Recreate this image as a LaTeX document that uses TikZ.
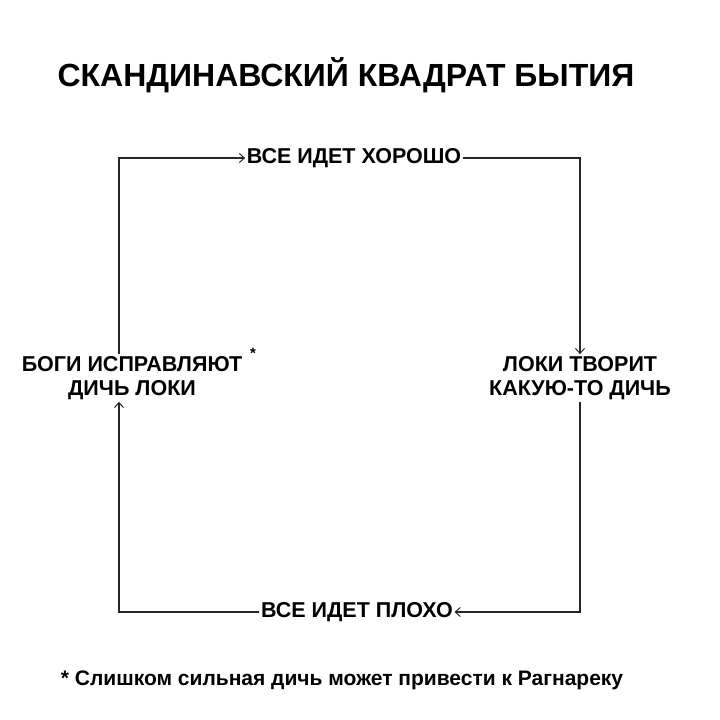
\documentclass[tikz,border=0pt]{standalone}
\usepackage{fontspec}
\setmainfont{Liberation Sans}
\usetikzlibrary{arrows.meta}
\begin{document}
\begin{tikzpicture}[x=1pt,y=-1pt,
  lbl/.style={font=\bfseries\fontsize{21.5}{24}\selectfont, align=center, inner xsep=1.5pt, inner ysep=2pt, text=black},
  conn/.style={line width=1.1pt, draw=black!85},
  arr/.style={conn, -{Straight Barb[length=5pt,width=9pt,line width=1pt]}}]
\useasboundingbox[fill=white] (0,0) rectangle (720,720);
\node[font=\bfseries\fontsize{32}{36}\selectfont, text=black] (title) at (346,75) {СКАНДИНАВСКИЙ КВАДРАТ БЫТИЯ};
\coordinate (tl) at (119,158);
\coordinate (tr) at (580,158);
\coordinate (br) at (580,612);
\coordinate (bl) at (119,612);
\node[lbl] (good) at (354,158) {ВСЕ ИДЕТ ХОРОШО};
\node[lbl] (bad) at (357,612) {ВСЕ ИДЕТ ПЛОХО};
\node[lbl] (loki) at (580,378) {ЛОКИ ТВОРИТ\\КАКУЮ-ТО ДИЧЬ};
\node[lbl] (gods) at (132,378) {БОГИ ИСПРАВЛЯЮТ\\ДИЧЬ ЛОКИ};
\node[font=\bfseries\fontsize{15}{15}\selectfont] (star) at (253,353) {*};
\draw[arr] (gods.north -| tl) -- (tl) -- (good.west);
\draw[arr] (good.east) -- (tr) -- (loki.north -| tr);
\draw[arr] (loki.south -| br) -- (br) -- (bad.east);
\draw[arr] (bad.west) -- (bl) -- (gods.south -| bl);
\node[font=\bfseries\fontsize{21}{24}\selectfont, text=black] (note) at (342,680) {* Слишком сильная дичь может привести к Рагнареку};
\end{tikzpicture}
\end{document}
